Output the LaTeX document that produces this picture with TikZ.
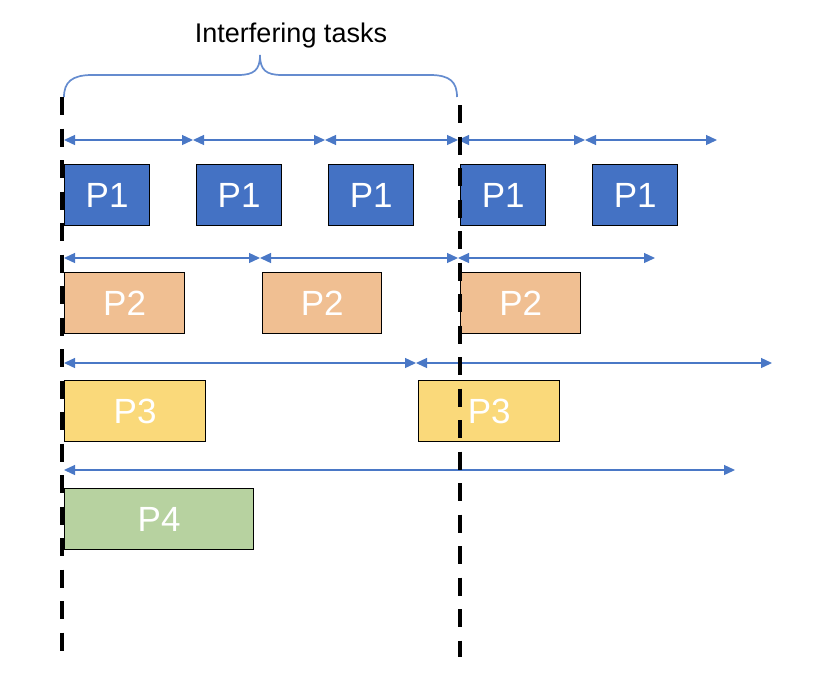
\documentclass[tikz,border=0pt]{standalone}
\usepackage{fontspec}
\setmainfont{Liberation Sans}
\usetikzlibrary{arrows.meta}
\definecolor{pone}{HTML}{4472C4}
\definecolor{ptwo}{HTML}{F0BF92}
\definecolor{pthree}{HTML}{FAD97A}
\definecolor{pfour}{HTML}{B7D2A0}
\definecolor{arr}{HTML}{4A78C6}
\tikzset{
  box/.style={draw=black, line width=1.3pt, anchor=north west, text=white,
    font=\fontsize{35}{35}\selectfont, inner sep=0pt, minimum height=61pt},
  period/.style={draw=arr, line width=1.3pt,
    {Triangle[length=11pt,width=10pt]}-{Triangle[length=11pt,width=10pt]}},
  deadline/.style={draw=black, line width=4pt, dash pattern=on 18pt off 13.5pt},
  bracestyle/.style={draw=arr!85!white, line width=1.7pt},
}
\begin{document}
\begin{tikzpicture}[x=1pt,y=-1pt]
\useasboundingbox (0,0) rectangle (818,694);
% title
\node[font=\fontsize{27}{27}\selectfont] (title) at (291,36) {Interfering tasks};
\draw[bracestyle] (64,97) .. controls (64,82) and (72,75) .. (92,75) -- (238,75)
  .. controls (254,75) and (260,70) .. (260,55)
  .. controls (260,70) and (266,75) .. (282,75) -- (430,75)
  .. controls (450,75) and (457,82) .. (457,97);
% boxes
\node[box, fill=pone, minimum width=85pt] (a1) at (64,164) {P1};
\node[box, fill=pone, minimum width=85pt] (a2) at (196,164) {P1};
\node[box, fill=pone, minimum width=85pt] (a3) at (328,164) {P1};
\node[box, fill=pone, minimum width=85pt] (a4) at (460,164) {P1};
\node[box, fill=pone, minimum width=85pt] (a5) at (592,164) {P1};
\node[box, fill=ptwo, minimum width=120pt] (b1) at (64,272) {P2};
\node[box, fill=ptwo, minimum width=119pt] (b2) at (262,272) {P2};
\node[box, fill=ptwo, minimum width=120pt] (b3) at (460,272) {P2};
\node[box, fill=pthree, minimum width=141pt] (c1) at (64,380) {P3};
\node[box, fill=pthree, minimum width=141pt] (c2) at (418,380) {P3};
\node[box, fill=pfour, minimum width=189pt] (d1) at (64,488) {P4};
% period arrows
\coordinate (r1a) at (64,140); \coordinate (r1b) at (193,140);
\coordinate (r1c) at (325,140); \coordinate (r1d) at (458,140);
\coordinate (r1e) at (585,140); \coordinate (r1f) at (717,140);
\draw[period] (r1a) -- (r1b);
\draw[period] (r1b) -- (r1c);
\draw[period] (r1c) -- (r1d);
\draw[period] (r1d) -- (r1e);
\draw[period] (r1e) -- (r1f);
\coordinate (r2a) at (64,258); \coordinate (r2b) at (260,258);
\coordinate (r2c) at (458,258); \coordinate (r2d) at (655,258);
\draw[period] (r2a) -- (r2b);
\draw[period] (r2b) -- (r2c);
\draw[period] (r2c) -- (r2d);
\coordinate (r3a) at (64,363); \coordinate (r3b) at (416,363);
\coordinate (r3c) at (772,363);
\draw[period] (r3a) -- (r3b);
\draw[period] (r3b) -- (r3c);
\coordinate (r4a) at (64,470); \coordinate (r4b) at (735,470);
\draw[period] (r4a) -- (r4b);
% deadlines
\coordinate (l1) at (62,97); \coordinate (l2) at (62,652);
\coordinate (m1) at (460,105); \coordinate (m2) at (460,657);
\draw[deadline] (l1) -- (l2);
\draw[deadline] (m1) -- (m2);
\end{tikzpicture}
\end{document}
